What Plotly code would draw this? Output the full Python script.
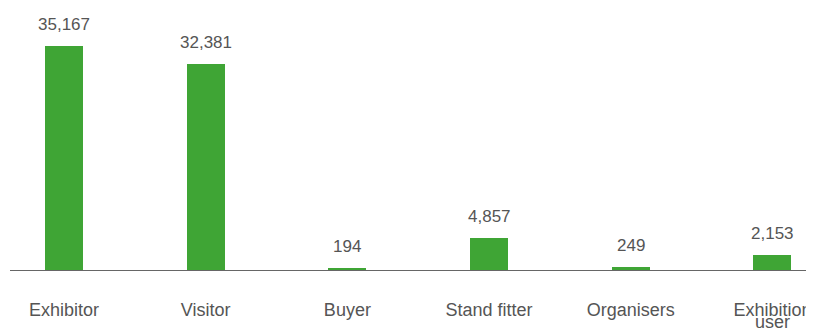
import plotly.graph_objects as go

categories = ["Exhibitor", "Visitor", "Buyer", "Stand fitter", "Organisers", "Exhibition"]
category_second_line = ["", "", "", "", "", "user"]
values = [35167, 32381, 194, 4857, 249, 2153]
value_labels = ["35,167", "32,381", "194", "4,857", "249", "2,153"]

x_idx = list(range(len(categories)))
FONT = "Liberation Sans, Arial, Helvetica, sans-serif"

fig = go.Figure()
fig.add_trace(go.Bar(
    x=x_idx, y=values, marker_color="#3FA535",
    marker_line=dict(color="#3FA535", width=2),
    width=0.254,
    hoverinfo="skip",
))

for xi, v, lab in zip(x_idx, values, value_labels):
    fig.add_annotation(x=xi, y=v, text=lab, showarrow=False, xref="x", yref="y",
                       yanchor="bottom", yshift=11,
                       font=dict(family=FONT, size=17, color="#555555"))

for xi, lab in zip(x_idx, category_second_line):
    if lab:
        fig.add_annotation(x=xi, y=0, text=lab, showarrow=False, xref="x", yref="paper",
                           yanchor="middle", yshift=-52,
                           font=dict(family=FONT, size=18, color="#555555"))

# page body has an 8px default margin; margins compensate for it
fig.update_layout(
    width=814, height=329,
    margin=dict(l=2, r=8, t=0, b=67),
    plot_bgcolor="white", paper_bgcolor="white",
    showlegend=False,
    bargap=0,
)
fig.update_xaxes(
    tickmode="array", tickvals=x_idx, ticktext=categories,
    range=[-0.381, 5.293],
    automargin=False,
    showline=True, linecolor="#666666", linewidth=1,
    showgrid=False, zeroline=False, ticks="",
    ticklabelstandoff=23,
    tickfont=dict(family=FONT, size=18, color="#555555"),
)
fig.update_yaxes(
    range=[0, 41317], visible=False, showgrid=False, zeroline=False,
    automargin=False,
)

fig.write_html("out.html")
